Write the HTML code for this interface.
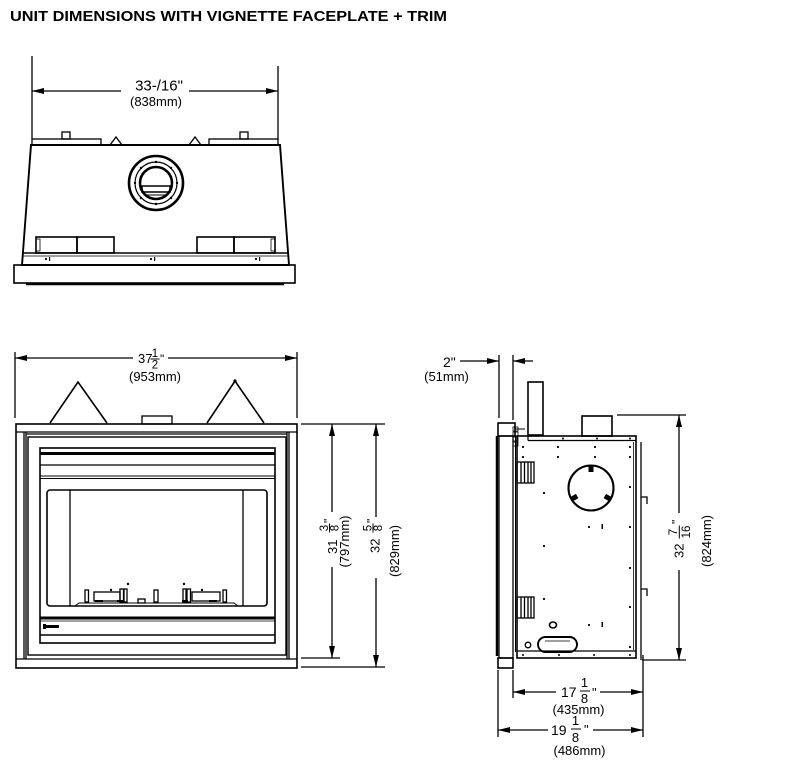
<!DOCTYPE html>
<html><head><meta charset="utf-8"><style>
html,body{margin:0;padding:0;background:#fff;}
svg{display:block;}
.l{stroke:#000;fill:none;stroke-width:1.3;}
.t{font-family:"Liberation Sans",Arial,sans-serif;fill:#000;}
</style></head><body>
<svg width="800" height="768" viewBox="0 0 800 768" xmlns="http://www.w3.org/2000/svg">
<rect width="800" height="768" fill="#fff"/>
<text class="t" x="10" y="21" font-size="14.5" font-weight="bold" textLength="437" lengthAdjust="spacingAndGlyphs">UNIT DIMENSIONS WITH VIGNETTE FACEPLATE + TRIM</text>

<!-- ========== TOP VIEW ========== -->
<g class="l">
<line x1="32" y1="56" x2="32" y2="139"/>
<line x1="278" y1="66" x2="278" y2="139"/>
<line x1="32" y1="91" x2="121" y2="91"/>
<line x1="189" y1="91" x2="278" y2="91"/>
<rect x="32" y="139" width="69" height="6"/>
<rect x="209" y="139" width="69" height="6"/>
<rect x="62" y="132" width="8" height="7"/>
<rect x="240" y="132" width="8" height="7"/>
<polyline points="110,145 116,137 122,145"/>
<polyline points="189,145 195,137 201,145"/>
<polygon points="31,145 280,145 289,265 22,265" stroke-width="1.9"/>
<rect x="36" y="237" width="41" height="16" stroke-width="1.6"/>
<rect x="77" y="237" width="37" height="16" stroke-width="1.6"/>
<rect x="197" y="237" width="37" height="16" stroke-width="1.6"/>
<rect x="234" y="237" width="41" height="16" stroke-width="1.6"/>
<rect x="36" y="239" width="4" height="12" stroke-width="0.8"/>
<rect x="271" y="239" width="4" height="12" stroke-width="0.8"/>
<line x1="22" y1="253" x2="289" y2="253" stroke-width="1.6"/>
<line x1="22" y1="256" x2="289" y2="256" stroke-width="0.8"/>
<rect x="14" y="265" width="281" height="18" stroke-width="1.6"/>
<line x1="26" y1="284" x2="284" y2="284" stroke-width="2.5"/>
<circle cx="156" cy="183" r="27" stroke-width="2.6"/>
<circle cx="156" cy="183" r="21" stroke-width="1.2"/>
<circle cx="156" cy="183" r="16" stroke-width="2.6"/>
<rect x="142" y="186" width="28" height="6" stroke-width="1.5"/>
<line x1="145" y1="195" x2="167" y2="195" stroke-width="1"/>
</g>
<g fill="#000">
<polygon points="32,91 44,88 44,94"/>
<polygon points="278,91 266,88 266,94"/>
<circle cx="46" cy="259" r="1.1"/><rect x="49" y="257" width="1.2" height="4"/>
<circle cx="151" cy="259" r="1.1"/><rect x="154" y="257" width="1.2" height="4"/>
<circle cx="256" cy="259" r="1.1"/><rect x="259" y="257" width="1.2" height="4"/>
<circle cx="156" cy="162" r="1.2"/><circle cx="156" cy="204" r="1.2"/>
<circle cx="135" cy="183" r="1.2"/><circle cx="177" cy="183" r="1.2"/>
<circle cx="141" cy="168" r="1.2"/><circle cx="171" cy="168" r="1.2"/>
<circle cx="141" cy="198" r="1.2"/><circle cx="171" cy="198" r="1.2"/>
</g>
<text class="t" x="159" y="90.5" font-size="15" text-anchor="middle">33-/16"</text>
<text class="t" x="156" y="106" font-size="13" text-anchor="middle">(838mm)</text>

<!-- ========== FRONT VIEW ========== -->
<g class="l">
<line x1="15" y1="352" x2="15" y2="418"/>
<line x1="297" y1="352" x2="297" y2="418"/>
<line x1="15" y1="358" x2="133" y2="358"/>
<line x1="168" y1="358" x2="297" y2="358"/>
<polyline points="50,423 78,382 107,423" stroke-width="1.6"/>
<polyline points="207,423 235,381 264,423" stroke-width="1.6"/>
<rect x="142" y="416" width="30" height="8"/>
<rect x="16" y="424" width="281" height="244" stroke-width="1.6"/>
<line x1="16" y1="432" x2="297" y2="432"/>
<line x1="16" y1="659" x2="297" y2="659"/>
<line x1="24" y1="432" x2="24" y2="659"/>
<line x1="26" y1="432" x2="26" y2="659"/>
<line x1="287" y1="432" x2="287" y2="659"/>
<line x1="289" y1="432" x2="289" y2="659"/>
<line x1="26" y1="434" x2="287" y2="434"/>
<rect x="28" y="437" width="258" height="218" stroke-width="1.4"/>
<rect x="40" y="448" width="235" height="195" stroke-width="1.6"/>
<line x1="40" y1="453.5" x2="275" y2="453.5" stroke-width="3"/>
<line x1="40" y1="465" x2="275" y2="465" stroke-width="1.3"/>
<line x1="40" y1="476" x2="275" y2="476" stroke-width="1"/>
<line x1="40" y1="478.5" x2="275" y2="478.5" stroke-width="1"/>
<rect x="47" y="490" width="220" height="116" rx="3" stroke-width="1.6"/>
<line x1="70" y1="490" x2="70" y2="606" stroke-width="1.3"/>
<line x1="243" y1="490" x2="243" y2="606" stroke-width="1.3"/>
<polyline points="75,606 79,603 234,603 238,606" stroke-width="1"/>
<line x1="40" y1="618" x2="275" y2="618" stroke-width="3"/>
<line x1="40" y1="621" x2="275" y2="621" stroke-width="0.8"/>
<line x1="40" y1="635" x2="275" y2="635" stroke-width="1.6"/>
<!-- burners -->
<rect x="85" y="590" width="3.5" height="12"/>
<rect x="94" y="592" width="26" height="9"/>
<rect x="120" y="589" width="3.5" height="13"/>
<rect x="124" y="589" width="3" height="13"/>
<rect x="138" y="599" width="7" height="4"/>
<rect x="154" y="590" width="4" height="12"/>
<rect x="183" y="589" width="3" height="13"/>
<rect x="187" y="589" width="3.5" height="13"/>
<rect x="192" y="592" width="28" height="9"/>
<rect x="223" y="590" width="3.5" height="12"/>
</g>
<g fill="#000">
<polygon points="15,358 27,355 27,361"/>
<polygon points="297,358 285,355 285,361"/>
<circle cx="235" cy="381" r="1.6"/>
<circle cx="111" cy="590" r="1.2"/><circle cx="128" cy="584" r="1.2"/>
<circle cx="184" cy="584" r="1.2"/><circle cx="202" cy="590" r="1.2"/>
<rect x="95" y="600" width="8" height="2"/><rect x="117" y="600" width="6" height="2"/>
<rect x="182" y="600" width="6" height="2"/><rect x="209" y="600" width="8" height="2"/>
<rect x="46" y="625" width="13" height="3"/><rect x="43" y="624" width="3" height="5"/>
</g>
<text class="t" x="138" y="363" font-size="13">37</text>
<text class="t" x="155" y="357" font-size="11.5" text-anchor="middle">1</text>
<rect x="150.5" y="358.5" width="9" height="1" fill="#000"/>
<text class="t" x="155" y="368.5" font-size="11.5" text-anchor="middle">2</text>
<text class="t" x="160" y="363" font-size="12">"</text>
<text class="t" x="155" y="381" font-size="13" text-anchor="middle">(953mm)</text>

<!-- front right dims -->
<g class="l">
<line x1="301" y1="424" x2="385" y2="424"/>
<line x1="301" y1="658" x2="340" y2="658"/>
<line x1="301" y1="667" x2="385" y2="667"/>
<line x1="332" y1="424" x2="332" y2="512"/>
<line x1="332" y1="567" x2="332" y2="658"/>
<line x1="376" y1="424" x2="376" y2="517"/>
<line x1="376" y1="578" x2="376" y2="667"/>
</g>
<g fill="#000">
<polygon points="332,424 329,436 335,436"/>
<polygon points="332,658 329,646 335,646"/>
<polygon points="376,424 373,436 379,436"/>
<polygon points="376,667 373,655 379,655"/>
</g>
<g transform="translate(337,554) rotate(-90)">
<text class="t" x="0" y="0" font-size="13">31</text>
<text class="t" x="26" y="-9" font-size="11.5" text-anchor="middle">3</text>
<rect x="21.5" y="-8" width="9" height="1" fill="#000"/>
<text class="t" x="26" y="1.5" font-size="11.5" text-anchor="middle">8</text>
<text class="t" x="31" y="-4.5" font-size="12">"</text>
</g>
<text class="t" transform="translate(349,541.5) rotate(-90)" font-size="13" text-anchor="middle">(797mm)</text>
<g transform="translate(379.5,553) rotate(-90)">
<text class="t" x="0" y="0" font-size="13">32</text>
<text class="t" x="25" y="-8" font-size="11.5" text-anchor="middle">5</text>
<rect x="20.5" y="-7" width="9" height="1" fill="#000"/>
<text class="t" x="25" y="2.5" font-size="11.5" text-anchor="middle">8</text>
<text class="t" x="30" y="-4" font-size="12">"</text>
</g>
<text class="t" transform="translate(399,551) rotate(-90)" font-size="13" text-anchor="middle">(829mm)</text>

<!-- ========== SIDE VIEW ========== -->
<g class="l">
<line x1="499" y1="355" x2="499" y2="418"/>
<line x1="513" y1="355" x2="513" y2="420"/>
<line x1="460" y1="361" x2="499" y2="361"/>
<line x1="513" y1="361" x2="533" y2="361"/>
<rect x="528" y="382" width="15" height="53" stroke-width="1.6"/>
<rect x="582" y="416" width="30" height="20" stroke-width="1.6"/>
<rect x="498" y="423" width="17" height="13" stroke-width="1.6"/>
<line x1="497" y1="436" x2="497" y2="656" stroke-width="2.5"/>
<rect x="499" y="436" width="14" height="222" stroke-width="1.3"/>
<line x1="515.5" y1="436" x2="515.5" y2="652" stroke-width="1"/>
<rect x="498" y="658" width="15" height="10" stroke-width="1.6"/>
<rect x="513" y="427" width="5" height="4" stroke-width="0.8"/>
<rect x="513" y="432" width="5" height="4" stroke-width="0.8"/>
<rect x="513" y="437" width="5" height="4" stroke-width="0.8"/>
<rect x="513" y="442" width="5" height="4" stroke-width="0.8"/>
<line x1="515" y1="429" x2="525" y2="429" stroke-width="1"/>
<rect x="517" y="436" width="119" height="222" stroke-width="1.6"/>
<line x1="528" y1="440.5" x2="636" y2="440.5" stroke-width="1.3"/>
<line x1="528" y1="436" x2="528" y2="440.5" stroke-width="1.3"/>
<line x1="517" y1="651" x2="636" y2="651" stroke-width="1.3"/>
<line x1="633.5" y1="442" x2="633.5" y2="650" stroke-width="0.8"/>
<line x1="641" y1="442" x2="641" y2="660" stroke-width="1.3"/>
<polyline points="641,497 647,497 647,504" stroke-width="1.3"/>
<polyline points="641,589 647,589 647,596" stroke-width="1.3"/>
<rect x="517" y="462" width="17" height="21" stroke-width="1.3"/>
<line x1="521" y1="462" x2="521" y2="483"/><line x1="524.5" y1="462" x2="524.5" y2="483"/>
<line x1="528" y1="462" x2="528" y2="483"/><line x1="531" y1="462" x2="531" y2="483"/>
<rect x="517" y="597" width="17" height="21" stroke-width="1.3"/>
<line x1="521" y1="597" x2="521" y2="618"/><line x1="524.5" y1="597" x2="524.5" y2="618"/>
<line x1="528" y1="597" x2="528" y2="618"/><line x1="531" y1="597" x2="531" y2="618"/>
<circle cx="591" cy="488" r="22.5" stroke-width="2.1"/>
<rect x="538" y="637" width="39" height="15" rx="7.5" stroke-width="1.9"/>
<line x1="545" y1="641" x2="570" y2="641" stroke-width="0.8"/>
<ellipse cx="553" cy="625" rx="3.5" ry="3" stroke-width="1.6"/>
<circle cx="528" cy="645" r="2.8" stroke-width="1.3"/>
<!-- dims -->
<line x1="617" y1="415" x2="686" y2="415"/>
<line x1="642" y1="660" x2="686" y2="660"/>
<line x1="679" y1="415" x2="679" y2="513"/>
<line x1="679" y1="570" x2="679" y2="660"/>
<line x1="513" y1="670" x2="513" y2="698"/>
<line x1="498" y1="670" x2="498" y2="737"/>
<line x1="643" y1="655" x2="643" y2="737"/>
<line x1="513" y1="692" x2="556" y2="692"/>
<line x1="600" y1="692" x2="643" y2="692"/>
<line x1="498" y1="730" x2="548" y2="730"/>
<line x1="593" y1="730" x2="643" y2="730"/>
</g>
<g fill="#000">
<rect x="588.5" y="465" width="5" height="7"/>
<rect x="588.5" y="465" width="5" height="7" transform="rotate(120 591 488)"/>
<rect x="588.5" y="465" width="5" height="7" transform="rotate(240 591 488)"/>
<polygon points="499,361 487,358 487,364"/>
<polygon points="513,361 525,358 525,364"/>
<polygon points="679,415 676,427 682,427"/>
<polygon points="679,660 676,648 682,648"/>
<polygon points="513,692 525,689 525,695"/>
<polygon points="643,692 631,689 631,695"/>
<polygon points="498,730 510,727 510,733"/>
<polygon points="643,730 631,727 631,733"/>
<g>
<circle cx="563" cy="438.5" r="1"/><circle cx="597" cy="438.5" r="1"/><circle cx="630" cy="438.5" r="1"/>
<circle cx="523" cy="655" r="1"/><circle cx="559" cy="655" r="1"/><circle cx="594" cy="655" r="1"/><circle cx="630" cy="655" r="1"/>
<circle cx="523" cy="447" r="1.1"/><circle cx="558" cy="447" r="1.1"/><circle cx="595" cy="447" r="1.1"/><circle cx="630" cy="447" r="1.1"/>
<circle cx="523" cy="457" r="1.1"/><circle cx="558" cy="457" r="1.1"/><circle cx="595" cy="457" r="1.1"/><circle cx="630" cy="457" r="1.1"/>
<circle cx="630" cy="487" r="1.1"/><circle cx="544" cy="493" r="1.1"/>
<circle cx="589" cy="527" r="1.1"/><rect x="601.5" y="524" width="1.5" height="5"/><circle cx="630" cy="527" r="1.1"/>
<circle cx="544" cy="546" r="1.1"/><circle cx="630" cy="568" r="1.1"/>
<circle cx="544" cy="599" r="1.1"/><circle cx="630" cy="607" r="1.1"/>
<circle cx="589" cy="625" r="1.1"/><rect x="601.5" y="622" width="1.5" height="5"/>
<circle cx="630" cy="647" r="1.1"/>
</g>
</g>
<text class="t" x="443" y="367" font-size="14">2"</text>
<text class="t" x="446.5" y="381" font-size="13" text-anchor="middle">(51mm)</text>
<g transform="translate(683.5,558) rotate(-90)">
<text class="t" x="0" y="0" font-size="13">32</text>
<text class="t" x="26" y="-6.5" font-size="11.5" text-anchor="middle">7</text>
<rect x="19.5" y="-4.7" width="13" height="1" fill="#000"/>
<text class="t" x="26" y="6.5" font-size="11.5" text-anchor="middle">16</text>
<text class="t" x="34" y="-3" font-size="12">"</text>
</g>
<text class="t" transform="translate(711,541) rotate(-90)" font-size="13" text-anchor="middle">(824mm)</text>
<text class="t" x="561" y="697" font-size="14">17</text>
<text class="t" x="584.5" y="687" font-size="13" text-anchor="middle">1</text>
<rect x="580" y="690.5" width="10" height="1" fill="#000"/>
<text class="t" x="584.5" y="703" font-size="13" text-anchor="middle">8</text>
<text class="t" x="592" y="697" font-size="13">"</text>
<text class="t" x="578.5" y="714" font-size="13" text-anchor="middle">(435mm)</text>
<text class="t" x="551" y="735" font-size="14">19</text>
<text class="t" x="575.5" y="725" font-size="13" text-anchor="middle">1</text>
<rect x="571" y="728.5" width="10" height="1" fill="#000"/>
<text class="t" x="575.5" y="742" font-size="13" text-anchor="middle">8</text>
<text class="t" x="584" y="734" font-size="13">"</text>
<text class="t" x="579.5" y="755" font-size="13" text-anchor="middle">(486mm)</text>
</svg>
</body></html>
